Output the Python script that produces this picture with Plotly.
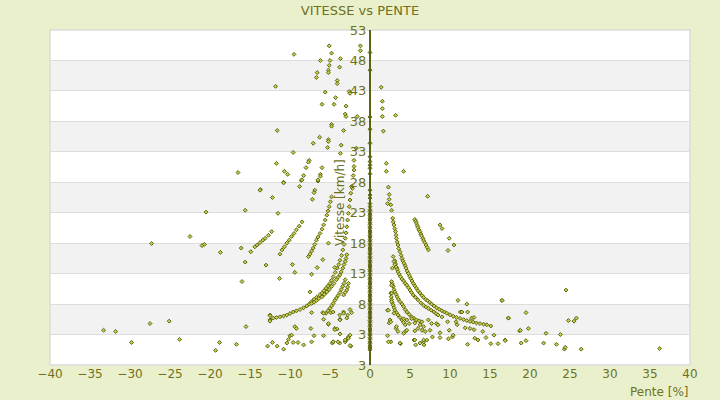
import plotly.graph_objects as go

# points (pente en %, vitesse en km/h)
# pentes negatives (descente)
pente_desc = [
    -5.1, -1.2, -1.2, -9.5, -4.8, -3.7, -6.2, -5.0, -5.1, -3.8, -6.6, -5.2, -5.2, -6.7, -4.1, -4.1,
    -11.8, -5.6, -2.6, -2.5, -4.3, -6.0, -4.5, -3.0, -3.1, -3.0, -1.6, -4.8, -4.8, -3.3, -11.6, -6.3,
    -5.2, -5.2, -5.3, -7.1, -3.6, -1.7, -9.6, -3.7, -7.6, -7.7, -2.0, -11.7, -8.0, -6.0, -2.0, -2.0,
    -16.5, -10.7, -10.3, -6.2, -6.2, -2.1, -8.3, -8.6, -6.5, -10.8, -8.8, -2.2, -13.7,
    -20.5, -15.6, -22.5, -27.3, -21.0, -20.7, -18.7, -16.1, -15.6, -16.0, -33.3, -31.8, -29.8, -27.5,
    -25.1, -23.8, -18.8, -19.3, -16.7, -15.5,
    # courbe principale
    -2.3, -2.4, -2.5, -2.6, -2.7, -2.8, -2.9, -3.0, -3.1, -3.25, -3.4, -3.55, -3.75, -3.9, -4.1, -4.35,
    -4.6, -4.8, -5.0, -5.25, -5.5, -5.75, -6.0, -6.3, -6.7, -7.0, -7.3, -7.6, -7.9, -8.3, -8.75, -9.2,
    -9.6, -10.0, -10.4, -10.8, -11.25, -11.7, -12.1, -12.5, -12.5,
    -4.8, -4.95, -5.1, -5.25, -5.4, -5.6, -5.8, -6.0, -6.25, -6.5, -6.7, -6.9, -7.1, -7.3, -7.5, -7.7,
    -8.5, -8.85, -9.2, -9.5, -9.8, -10.1, -10.4, -10.7, -11.0, -11.25,
    -12.3, -12.7, -13.1, -13.4, -13.75, -14.1, -14.4, -14.9,
    -2.9, -3.0, -3.1, -3.25, -3.4, -3.6, -3.75, -4.0, -4.2, -4.5, -4.8, -5.1, -5.4, -5.7, -6.0, -6.4,
    -6.7, -7.0, -7.3,
    -3.1, -3.25, -3.4, -3.6, -3.75, -4.0, -4.2, -4.4, -4.6, -4.8, -5.0, -5.25, -5.5,
    -2.7, -2.8, -2.9, -3.1, -3.3,
    # points isoles
    -10.8, -8.5, -6.5, -13.75, -12.2, -11.5, -7.2, -6.9, -7.0, -5.2, -5.9, -13.0, -9.7, -9.4, -11.3,
    -7.3, -6.6, -4.4, -7.5, -7.3, -5.9, -5.8, -4.9, -3.8, -3.3, -3.75, -2.8, -2.5, -5.2, -4.4, -4.1,
    -7.4, -9.4, -9.2, -10.0, -9.8, -10.2, -10.4, -9.6, -9.0, -8.3, -7.3, -7.0, -5.8, -4.7, -4.6, -3.8,
    -3.75, -3.1, -2.9, -2.7, -2.5, -2.4, -12.8, -12.2, -11.6, -10.8, -12.5, -12.5,
    -5.8, -4.6, -3.3, -2.3, -5.2, -3.75, -2.9, -4.4, -2.7, -2.5, -4.6, -4.0, -3.1,
]
vitesse_desc = [
    50.4, 50.4, 49.6, 49.0, 49.2, 48.3, 48.0, 48.0, 47.2, 46.9, 46.0, 46.4, 46.0, 45.2, 44.7, 44.2,
    43.75, 42.8, 42.9, 42.6, 41.9, 40.8, 40.8, 40.5, 39.2, 38.8, 38.8, 37.5, 37.2, 36.5, 36.5, 35.4,
    35.0, 34.7, 33.7, 34.4, 34.1, 33.6, 32.9, 32.75, 31.6, 31.3, 31.6, 31.1, 30.4, 30.4, 30.6, 30.0,
    29.6, 29.8, 29.3, 29.3, 29.0, 29.1, 29.1, 28.3, 28.2, 28.0, 27.3, 27.0, 26.8,
    23.1, 23.4, 19.1, 17.95, 17.6, 17.8, 16.5, 17.2, 14.9, 11.7, 3.7, 3.5, 1.7, 4.8,
    5.2, 2.2, 1.7, 0.4, 1.4, 4.3,
    27.3, 26.2, 25.1, 24.0, 22.9, 21.8, 20.7, 19.7, 18.8, 17.8, 16.9, 16.0, 15.2, 14.5, 13.9, 13.2,
    12.5, 11.9, 11.4, 11.0, 10.6, 10.2, 9.8, 9.5, 9.1, 8.8, 8.4, 8.0, 7.7, 7.4, 7.1, 6.9,
    6.7, 6.45, 6.2, 6.05, 5.9, 5.8, 5.7, 5.4, 6.2,
    25.6, 24.8, 24.0, 23.3, 22.6, 21.8, 21.0, 20.3, 19.6, 19.0, 18.5, 17.8, 17.2, 16.7, 16.2, 15.8,
    21.5, 20.8, 20.2, 19.6, 19.1, 18.5, 18.0, 17.4, 16.9, 16.2,
    19.9, 19.3, 18.8, 18.5, 18.1, 17.7, 17.4, 16.6,
    16.1, 15.5, 15.0, 14.5, 13.9, 13.3, 12.8, 12.4, 12.0, 11.4, 10.9, 10.4, 10.0, 9.6, 9.2, 8.9,
    8.6, 8.3, 8.1,
    12.0, 11.4, 10.9, 10.4, 9.9, 9.4, 9.0, 8.6, 8.1, 7.7, 7.3, 6.9, 6.5,
    11.4, 10.8, 10.3, 9.9, 9.5,
    27.9, 28.4, 28.4, 26.7, 25.5, 22.9, 25.2, 26.7, 26.3, 18.0, 15.3, 14.4, 14.5, 13.2, 12.2,
    12.9, 14.0, 14.0, 10.0, 6.6, 6.6, 5.5, 6.6, 6.2, 6.7, 5.5, 6.2, 7.1, 4.7, 4.0, 3.9,
    4.0, 4.3, 4.0, 2.8, 2.9, 2.2, 1.6, 1.7, 1.7, 1.3, 1.8, 2.8, 2.8, 1.6, 1.8, 1.6,
    3.1, 1.8, 2.2, 2.6, 2.9, 1.1, 1.1, 1.7, 1.1, 0.6, 6.1, 5.2,
    6.5, 6.7, 6.5, 6.6, 4.8, 5.4, 5.7, 3.8, 2.4, 1.2, 1.8, 1.8, 2.1,
]

# pentes positives (montee)
pente_montee = [
    1.4, 1.54, 1.54, 1.54, 3.2, 1.67, 2.04, 2.04, 4.2, 2.3, 2.4, 2.4, 2.2, 2.6, 2.7, 7.2,
    # courbe principale
    2.83, 2.9, 3.0, 3.1, 3.17, 3.25, 3.3, 3.4, 3.5, 3.6, 3.75, 3.9, 4.0, 4.1, 4.25, 4.4, 4.5, 4.65,
    4.8, 4.95, 5.1, 5.25, 5.4, 5.6, 5.8, 6.0, 6.25, 6.5, 6.7, 6.95, 7.2, 7.45, 7.7, 8.0, 8.3, 8.65,
    9.0, 9.3, 9.6, 10.0, 10.4, 10.8, 11.25, 11.7, 12.1, 12.5, 12.9, 13.3, 13.75, 14.2, 14.6, 15.1,
    5.6, 5.7, 5.8, 5.9, 6.0, 6.1, 6.25, 6.35, 6.45, 6.6, 6.7, 6.85, 7.0, 7.15, 7.3,
    8.75, 9.0, 9.9, 10.5, 9.75,
    2.9, 3.1, 3.2, 3.33, 2.8,
    3.0, 3.1, 3.25, 3.4, 3.5, 3.65, 3.8, 4.0, 4.2, 4.4, 4.6, 4.8, 5.0, 5.2, 5.4, 5.7, 6.0, 6.35,
    6.7, 7.0, 7.3, 7.65, 8.0, 8.25, 8.5,
    2.7, 2.8, 2.9, 3.0, 3.1, 3.25, 3.4, 3.55, 3.75, 4.0, 4.2, 4.4, 4.6, 4.9, 5.2, 5.5, 5.8, 6.15, 6.5,
    2.6, 2.65, 2.7, 2.8, 2.9, 3.0, 3.1, 3.3, 3.5, 3.75, 4.0, 4.2, 4.4, 4.4,
    # points isoles
    2.2, 2.5, 2.4, 2.2, 2.6, 3.25, 3.5, 3.8, 4.2, 4.6, 4.9, 5.2, 5.6, 5.6, 6.0, 6.25, 6.5, 6.7,
    6.9, 5.5, 5.7, 6.7, 6.75, 7.1, 7.3, 7.7, 7.8, 8.3, 8.75, 8.75, 8.5, 9.0, 9.7, 9.9, 9.8, 10.3,
    10.4, 10.75, 10.9, 11.0, 11.3, 11.5, 11.9, 12.1, 12.2, 12.2, 12.5, 12.7, 13.0, 13.0, 13.1, 13.5,
    14.1, 14.5, 15.1, 15.5, 16.0, 16.5, 16.9, 17.3, 18.7,
    24.5, 16.5, 19.5, 17.3, 24.8, 25.5, 25.8, 18.8, 19.8, 22.0, 23.8, 16.9, 18.9, 19.5, 21.7, 23.3,
    24.3, 24.4, 26.4, 36.2,
    2.7, 2.7, 2.7, 2.3, 3.0, 2.6, 3.3, 4.2, 3.75, 2.3, 4.6, 5.6, 6.7, 6.25, 7.5,
]
vitesse_montee = [
    43.6, 41.3, 40.1, 38.8, 39.0, 36.4, 31.1, 29.8, 29.8, 27.2, 26.0, 25.2, 24.5, 24.3, 23.4, 25.7,
    22.1, 21.5, 21.0, 20.4, 19.9, 19.3, 18.8, 18.2, 17.7, 17.1, 16.6, 16.0, 15.5, 15.1, 14.7, 14.3,
    13.9, 13.4, 13.0, 12.6, 12.2, 11.8, 11.4, 11.0, 10.6, 10.2, 9.8, 9.4, 9.1, 8.8, 8.55, 8.3, 8.0,
    7.7, 7.4, 7.15, 6.9, 6.7, 6.5, 6.25, 6.0, 5.8, 5.65, 5.45, 5.3, 5.15, 5.05, 4.9, 4.8, 4.7, 4.6,
    4.4,
    21.9, 21.6, 21.3, 20.9, 20.6, 20.2, 19.9, 19.5, 19.2, 18.8, 18.5, 18.1, 17.7, 17.3, 16.9,
    21.0, 20.4, 18.8, 17.7, 16.8,
    15.8, 15.1, 14.6, 14.0, 13.9,
    15.0, 14.5, 14.1, 13.7, 13.3, 12.9, 12.5, 12.1, 11.8, 11.4, 11.1, 10.7, 10.3, 9.9, 9.5, 9.1, 8.7,
    8.2, 7.8, 7.5, 7.3, 7.0, 6.7, 6.45, 6.2,
    11.7, 11.3, 10.9, 10.4, 10.0, 9.6, 9.2, 8.8, 8.4, 8.0, 7.6, 7.1, 6.7, 6.3, 5.9, 5.65, 5.4, 5.25, 5.1,
    9.8, 9.2, 8.7, 8.2, 7.8, 7.4, 7.0, 6.6, 6.2, 5.8, 5.4, 5.0, 4.6, 3.5,
    7.0, 5.4, 4.9, 2.8, 1.8, 4.0, 3.5, 1.5, 5.6, 5.4, 4.8, 5.6, 4.9, 3.6, 4.0, 4.6, 3.7, 4.3,
    3.5, 2.1, 1.3, 1.8, 1.3, 2.1, 5.4, 4.8, 2.6, 4.8, 3.3, 2.5, 4.6, 5.9, 5.1, 3.7, 2.3, 2.6,
    2.9, 5.1, 4.6, 8.6, 6.7, 6.7, 4.1, 8.0, 6.7, 1.4, 4.0, 5.7, 5.8, 3.8, 2.4, 2.1,
    3.5, 2.5, 1.5, 2.9, 1.5, 8.6, 2.1, 5.7, 3.6,
    10.3, 8.6, 6.6, 5.7, 5.3, 5.2, 5.7, 3.7, 4.0, 3.2, 3.0, 2.0, 1.6, 2.0, 1.6, 1.4,
    0.6, 0.9, 0.6, 0.7,
    11.1, 9.8, 8.4, 7.0, 6.5, 5.1, 4.3, 3.2, 1.6, 1.8, 3.7, 2.1, 2.1, 1.6, 3.7,
]

# pente nulle : colonne de points sur l'axe
vitesse_plat = [
    0.5, 0.8, 1.1, 1.5, 1.8, 2.2, 2.5, 2.9, 3.2, 3.6, 3.9, 4.3, 4.6, 5.0, 5.3, 5.7, 6.0, 6.4, 6.7,
    7.1, 7.4, 7.8, 8.1, 8.5, 8.8, 9.2, 9.5, 9.9, 10.2, 10.6, 10.9, 11.3, 11.6, 12.0, 12.3, 12.7,
    13.0, 13.4, 13.7, 14.1, 14.4, 14.8, 15.1, 15.5, 15.8, 16.2, 16.5, 16.9, 17.2, 17.6, 17.9, 18.3,
    18.6, 19.0, 19.3, 19.7, 20.0, 20.4, 20.7, 21.1, 21.4, 21.8, 22.1, 22.5, 22.8, 23.2, 23.5, 24.0,
    24.5, 25.4, 25.9, 26.7, 29.4, 30.3, 30.8, 31.4, 32.2, 34.4, 36.7, 38.7, 46.4, 49.3,
]
pente_plat = [0.0] * len(vitesse_plat)

pente = pente_desc + pente_plat + pente_montee
vitesse = vitesse_desc + vitesse_plat + vitesse_montee

y_ticks = [-2, 3, 8, 13, 18, 23, 28, 33, 38, 43, 48, 53]
y_labels = ["3", "3", "8", "13", "18", "23", "28", "33", "38", "43", "48", "53"]
x_ticks = [-40, -35, -30, -25, -20, -15, -10, -5, 0, 5, 10, 15, 20, 25, 30, 35, 40]
bandes = [(3, 8), (13, 18), (23, 28), (33, 38), (43, 48)]

olive = "#5b6311"
texte = "#6d7121"

fig = go.Figure()
fig.add_trace(go.Scatter(
    x=pente, y=vitesse, mode="markers",
    marker=dict(symbol="diamond", size=3, color="#c9d04a", line=dict(color=olive, width=1)),
    hoverinfo="x+y", showlegend=False,
))

shapes = []
for y0, y1 in bandes:
    shapes.append(dict(type="rect", xref="paper", yref="y", x0=0, x1=1, y0=y0, y1=y1,
                       fillcolor="#f2f2f2", line=dict(width=0), layer="below"))
shapes.append(dict(type="rect", xref="paper", yref="paper", x0=0, x1=1, y0=0, y1=1,
                   line=dict(color="#dcdcdc", width=1.5), layer="below"))

fig.update_layout(
    width=720, height=400,
    margin=dict(l=50, r=30, t=30, b=35),
    paper_bgcolor="#ebf0cc", plot_bgcolor="white",
    font=dict(family="DejaVu Sans", color=texte, size=12),
    title=dict(text="VITESSE vs PENTE", x=0.5, xanchor="center", y=0.975, yanchor="middle",
               font=dict(size=13, color=texte)),
    shapes=shapes,
    xaxis=dict(range=[-40, 40], tickvals=x_ticks, showgrid=False, zeroline=False,
               showline=False, ticks="", tickfont=dict(size=12, color=texte)),
    yaxis=dict(range=[-2, 53], tickvals=y_ticks, ticktext=y_labels, anchor="free", position=0.5,
               showline=True, linecolor=olive, linewidth=2, gridcolor="#dddddd", gridwidth=1,
               zeroline=False, ticks="", tickfont=dict(size=13, color=texte)),
    annotations=[
        dict(text="Pente [%]", xref="paper", yref="paper", x=1, y=-0.08,
             xanchor="right", yanchor="middle", showarrow=False,
             font=dict(size=12, color=texte)),
        dict(text="Vitesse [km/h]", xref="x", yref="y", x=-3.75, y=24.6, textangle=-90,
             xanchor="center", yanchor="middle", showarrow=False,
             font=dict(size=12, color=texte)),
    ],
)

fig.write_html("out.html", config={"displayModeBar": False},
               post_script="document.body.style.margin='0';")
